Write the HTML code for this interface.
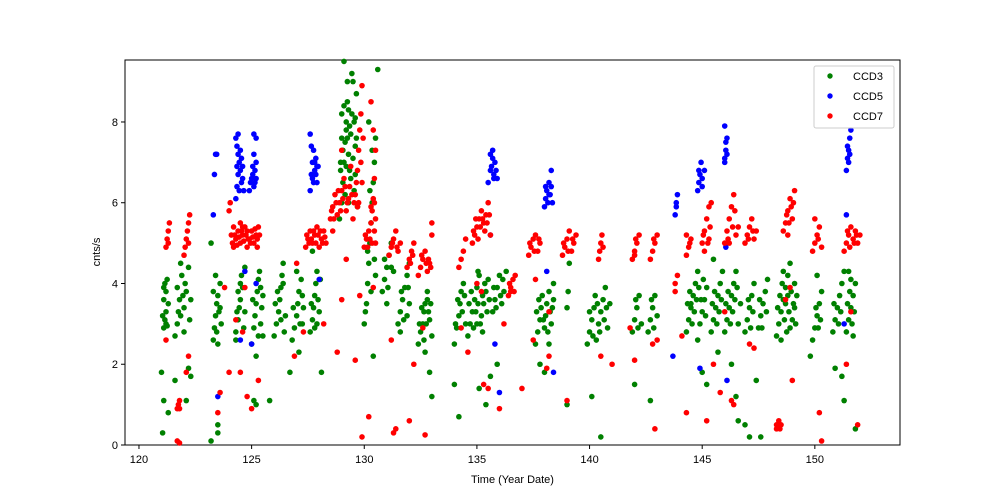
<!DOCTYPE html>
<html><head><meta charset="utf-8"><style>
body{margin:0;background:#fff;}
svg{display:block;font-family:"Liberation Sans","DejaVu Sans",sans-serif;}
</style></head><body>
<svg id="chart" width="1000" height="500"></svg>
<script>
const ccd3 = [
[121.0,1.8],[121.05,0.3],[121.1,1.1],[121.1,2.9],[121.15,3.1],[121.2,3.3],[121.1,3.6],[121.2,3.8],[121.15,4.0],[121.25,4.1],[121.2,3.0],[121.3,3.5],[121.3,0.8],
[121.6,2.7],[121.7,3.0],[121.75,3.3],[121.8,3.6],[121.7,3.9],[121.9,4.2],[122.0,3.4],[122.1,3.8],[122.2,4.4],[122.0,2.8],[122.25,3.1],[122.3,3.6],[121.85,4.5],[122.2,1.9],[121.6,1.6],[122.3,1.7],[122.1,1.1],
[123.2,0.1],[123.3,2.6],[123.35,2.9],[123.4,3.2],[123.45,3.5],[123.5,3.7],[123.6,4.0],[123.4,4.2],[123.65,3.0],[123.5,2.5],[123.6,3.4],[123.2,5.0],[123.5,0.5],[123.5,0.3],
[124.3,2.8],[124.4,3.1],[124.45,3.4],[124.5,3.6],[124.6,3.9],[124.55,4.2],[124.7,3.3],[124.4,3.8],[124.7,4.4],[124.3,2.6],
[125.0,2.5],[125.1,2.9],[125.15,3.2],[125.2,3.5],[125.25,3.8],[125.3,4.1],[125.4,3.0],[125.45,3.4],[125.5,3.7],[125.35,4.3],[125.2,2.2],[125.1,1.1],[125.2,1.0],[125.5,2.7],[125.8,1.1],
[126.0,2.7],[126.1,3.0],[126.2,3.3],[126.25,3.6],[126.3,3.9],[126.35,4.2],[126.4,4.5],[126.5,3.2],[126.45,2.8],[126.15,3.8],
[126.8,2.6],[126.9,2.9],[127.0,3.2],[127.05,3.5],[127.1,3.8],[127.2,4.1],[127.25,3.0],[127.3,3.4],[127.0,4.3],[126.7,1.8],[127.1,2.3],
[127.6,2.8],[127.7,3.1],[127.75,3.4],[127.8,3.7],[127.85,4.0],[127.9,4.3],[128.0,3.3],[127.95,3.6],[127.7,4.8],[127.8,2.9],[128.1,1.8],
[128.9,5.6],[129.0,6.0],[129.05,6.5],[129.1,7.0],[129.15,7.5],[129.2,8.0],[129.25,8.5],[129.3,7.2],[129.35,6.8],[129.4,7.7],[129.45,8.2],[129.5,9.0],[129.55,6.3],[129.6,7.4],[129.65,8.7],[129.0,8.2],[129.1,9.5],[129.3,6.0],[129.7,5.9],[129.6,8.1],[128.95,7.0],[129.2,7.8],[129.45,9.2],
[130.0,3.0],[130.1,3.5],[130.15,4.0],[130.2,4.5],[130.25,5.0],[130.3,5.5],[130.35,6.0],[130.4,6.5],[130.45,7.0],[130.5,7.6],[130.2,8.0],[130.3,3.8],[130.5,4.2],[130.6,9.3],[130.4,2.2],
[130.8,3.8],[130.9,4.1],[131.0,4.4],[131.1,4.7],[131.2,5.0],[131.3,4.3],[131.0,3.5],
[131.5,3.0],[131.6,3.3],[131.7,3.6],[131.8,3.9],[131.9,4.2],[132.0,4.5],[131.6,2.8],[131.9,3.2],[132.0,3.5],
[132.4,2.5],[132.5,2.8],[132.6,3.0],[132.65,3.3],[132.7,3.5],[132.8,3.8],[132.9,3.1],[133.0,2.7],[132.7,2.3],[132.9,1.8],[133.0,1.2],[132.8,3.6],
[134.0,2.5],[134.1,2.9],[134.2,3.2],[134.25,3.5],[134.3,3.8],[134.4,4.0],[134.5,3.0],[134.0,1.5],[134.2,0.7],
[134.6,2.7],[134.7,3.0],[134.8,3.3],[134.9,3.6],[135.0,3.9],[135.1,4.2],[135.2,3.2],[135.3,3.5],[135.4,3.8],[135.5,4.1],[135.0,3.0],[135.25,2.8],[135.1,1.4],[135.4,1.0],[135.6,1.7],
[135.7,3.3],[135.8,3.6],[135.9,3.9],[136.0,4.2],[136.1,3.5],[136.2,3.8],[136.3,4.3],[135.9,2.0],
[137.6,2.5],[137.7,2.8],[137.8,3.1],[137.85,3.4],[137.9,3.7],[138.0,2.9],[138.05,3.2],[138.1,3.5],[138.2,3.8],[138.3,3.0],[138.35,3.4],[138.4,4.0],[138.2,2.5],[137.8,2.0],[138.0,1.8],
[139.0,3.4],[139.05,3.8],[139.1,4.5],[139.0,1.0],
[139.9,2.5],[140.0,2.8],[140.1,3.1],[140.2,3.4],[140.25,3.7],[140.3,2.6],[140.4,3.0],[140.5,3.3],[140.6,3.6],[140.7,3.9],[140.8,2.9],[140.9,3.5],[140.1,1.2],[140.5,0.2],
[141.9,2.8],[142.0,3.1],[142.1,3.4],[142.2,3.7],[142.3,3.0],[142.0,1.5],
[142.6,2.8],[142.7,3.1],[142.8,3.4],[142.9,3.7],[143.0,3.2],[142.7,1.1],
[144.3,2.8],[144.4,3.1],[144.5,3.4],[144.6,3.7],[144.7,4.0],[144.8,4.3],[144.9,3.0],[145.0,3.3],[145.1,3.6],[145.2,3.9],[144.5,3.5],[144.8,2.6],[145.0,1.8],[145.2,1.5],
[145.4,2.8],[145.5,3.1],[145.6,3.4],[145.7,3.7],[145.8,4.0],[145.9,4.3],[145.5,4.6],[145.7,2.3],
[146.0,2.8],[146.1,3.1],[146.2,3.4],[146.3,3.7],[146.4,4.0],[146.5,4.3],[146.6,3.0],[146.7,3.5],[146.3,2.0],[146.5,1.2],[146.6,0.6],
[146.9,2.8],[147.0,3.1],[147.1,3.4],[147.2,3.7],[147.3,4.0],[146.9,0.5],[147.1,0.2],[147.4,1.6],
[147.5,2.9],[147.6,3.2],[147.7,3.5],[147.8,3.8],[147.9,4.1],[147.6,0.2],
[148.3,2.7],[148.4,3.0],[148.5,3.3],[148.6,3.6],[148.7,3.9],[148.8,4.2],[148.9,4.5],[149.0,3.1],[149.1,3.4],[149.2,3.7],[148.5,2.6],[148.7,3.5],[148.9,2.9],[149.1,4.0],
[149.9,2.6],[150.0,2.9],[150.1,3.2],[150.2,3.5],[150.3,3.8],[149.8,2.2],[150.1,4.2],
[150.8,2.8],[150.9,3.1],[151.0,3.4],[151.1,3.7],[151.2,4.0],[151.3,4.3],[150.9,1.9],[151.3,1.1],[151.2,1.7],
[151.4,2.8],[151.5,3.1],[151.6,3.4],[151.7,3.7],[151.8,4.0],[151.5,4.3],[151.8,0.4],[151.7,2.7],
/* extra density */
[121.05,3.2],[121.1,3.9],[121.25,2.95],[121.85,3.2],[121.95,3.7],[122.05,4.0],[123.3,3.8],[123.45,2.8],[123.55,3.3],[124.35,3.3],[124.5,4.0],[124.65,2.9],
[125.05,3.6],[125.3,2.7],[125.4,3.9],[126.05,3.5],[126.3,3.1],[126.4,4.0],[126.85,3.4],[127.15,3.0],[127.25,3.7],[127.65,3.5],[127.9,3.0],[128.05,4.1],
[128.95,6.8],[129.05,7.3],[129.1,8.4],[129.15,6.2],[129.2,6.9],[129.25,7.6],[129.3,8.3],[129.35,7.9],[129.4,6.6],[129.5,7.1],[129.55,8.0],[129.6,6.7],[129.65,7.6],[129.0,7.6],[129.25,9.0],
[130.05,3.3],[130.15,4.8],[130.25,6.3],[130.35,7.3],[130.45,4.6],[130.9,4.6],[131.05,3.9],[131.2,4.4],[131.65,3.8],[131.75,3.1],[131.95,3.9],
[132.45,3.0],[132.55,3.4],[132.65,2.6],[132.75,3.0],[132.85,3.3],[132.95,3.5],[134.05,3.0],[134.15,3.6],[134.35,3.3],[134.45,3.7],
[134.65,3.5],[134.75,3.8],[134.85,2.9],[134.95,3.3],[135.05,3.5],[135.15,3.0],[135.25,3.7],[135.35,4.0],[135.45,3.3],[135.55,3.6],[135.05,4.3],
[135.75,3.9],[135.85,3.4],[136.05,3.7],[136.15,4.1],[137.65,3.3],[137.75,3.6],[137.95,3.1],[138.15,2.8],[138.25,3.3],[138.4,3.6],
[140.0,3.3],[140.15,2.7],[140.35,3.5],[140.45,2.8],[140.65,3.1],[140.75,3.4],[142.05,3.6],[142.15,2.9],[142.75,3.6],[142.85,2.9],
[144.35,3.5],[144.45,3.8],[144.55,3.0],[144.65,3.3],[144.75,3.6],[144.85,3.9],[144.95,3.6],[145.05,4.1],[145.15,3.2],[145.45,3.5],[145.55,3.8],[145.65,3.0],[145.75,3.3],[145.85,3.6],
[146.05,3.5],[146.15,3.8],[146.25,3.0],[146.35,3.3],[146.45,3.6],[146.55,3.9],[147.05,3.6],[147.15,2.9],[147.25,3.3],[147.55,3.6],[147.65,2.9],[147.85,3.3],
[148.35,3.4],[148.45,3.7],[148.55,4.0],[148.65,3.1],[148.75,2.8],[148.85,3.3],[148.95,3.8],[149.05,3.5],[149.15,3.0],[148.6,4.3],[148.8,3.7],
[150.05,3.4],[150.15,2.9],[150.25,3.1],[150.85,3.5],[151.05,3.0],[151.15,3.3],[151.45,3.5],[151.55,3.8],[151.65,3.0],[151.75,3.3],[151.6,4.1]
];
const ccd5 = [
[123.35,6.7],[123.4,7.2],[123.45,7.2],[123.3,5.7],[123.5,1.2],
[124.3,6.1],[124.35,6.4],[124.4,6.7],[124.45,7.0],[124.5,7.3],[124.55,6.5],[124.6,6.9],[124.3,7.6],[124.4,7.7],[124.65,6.3],[124.5,2.6],[124.7,4.3],
[124.35,6.9],[124.45,6.3],[124.5,6.8],[124.6,6.6],[124.4,7.2],[124.55,7.1],[124.35,7.4],
[124.9,6.3],[125.0,6.6],[125.05,6.9],[125.1,7.2],[125.15,6.5],[125.2,7.0],[125.1,7.7],[125.2,7.6],[125.0,2.5],[125.2,4.0],
[124.95,6.5],[125.05,6.7],[125.15,6.8],[125.2,6.6],[125.1,6.4],
[127.6,6.3],[127.65,6.7],[127.7,7.0],[127.75,7.3],[127.8,6.8],[127.85,7.1],[127.9,6.5],[127.6,7.7],[127.95,6.9],[128.0,4.1],
[127.65,7.4],[127.7,6.6],[127.8,7.0],[127.85,6.7],[127.9,6.9],[127.75,6.5],
[135.5,6.5],[135.6,6.8],[135.7,7.1],[135.75,6.7],[135.8,7.0],[135.9,6.6],[135.7,7.3],[135.6,5.2],[135.8,2.5],[136.0,1.3],
[135.65,6.9],[135.75,6.6],[135.85,6.8],[135.6,7.2],
[138.0,5.9],[138.05,6.1],[138.1,6.3],[138.2,6.5],[138.25,6.2],[138.3,6.8],[138.35,6.0],[138.1,4.3],[138.4,1.8],
[138.15,6.0],[138.2,6.2],[138.3,6.4],[138.05,6.4],
[143.8,5.7],[143.85,5.9],[143.9,6.2],[143.85,6.0],[143.7,2.2],
[144.8,6.3],[144.85,6.5],[144.9,6.7],[144.95,7.0],[145.0,6.6],[145.1,6.8],[144.9,1.9],[144.85,6.8],[145.0,6.4],
[146.0,7.0],[146.05,7.3],[146.1,7.6],[146.0,7.9],[146.1,7.2],[146.05,4.9],[146.1,1.6],[146.05,7.5],[146.0,7.1],
[151.4,6.8],[151.45,7.1],[151.5,7.3],[151.55,7.6],[151.6,7.8],[151.5,7.0],[151.4,5.7],[151.3,3.0],[151.45,7.4],[151.55,7.2]
];
const ccd7 = [
[121.2,4.9],[121.25,5.1],[121.3,5.3],[121.35,5.5],[121.3,5.0],[121.2,2.6],
[121.7,0.9],[121.75,1.0],[121.8,1.1],[121.8,0.9],[121.7,0.1],[121.8,0.05],
[122.0,4.7],[122.05,4.9],[122.1,5.1],[122.15,5.3],[122.2,5.5],[122.25,5.7],[122.2,5.0],[122.2,2.2],[122.1,1.8],
[123.5,0.8],[123.6,1.3],[123.8,3.9],
[124.0,5.8],[124.05,6.0],[124.1,5.2],[124.2,4.9],[124.3,5.1],[124.4,5.3],[124.5,5.0],[124.6,5.2],[124.7,5.4],[124.8,4.9],[124.9,5.1],[125.0,5.3],[125.1,5.0],[125.2,5.2],[125.3,5.4],[124.5,5.5],[124.8,5.3],[125.25,4.9],[124.3,3.1],[124.0,1.8],[124.6,2.8],[124.5,1.8],[124.8,1.2],[125.0,0.9],[125.3,1.6],[124.7,3.9],
[124.15,5.0],[124.25,5.2],[124.35,4.95],[124.45,5.15],[124.55,5.3],[124.65,5.05],[124.75,5.2],[124.85,5.1],[124.95,5.0],[125.05,5.15],[125.15,5.35],[125.25,5.1],[125.35,5.2],[124.2,5.4],[124.6,5.4],
[127.4,4.9],[127.5,5.1],[127.6,5.3],[127.7,5.0],[127.8,5.2],[127.9,5.4],[128.0,4.9],[128.1,5.1],[128.2,5.3],[128.3,5.0],[127.0,4.5],[126.9,2.2],[127.3,2.8],[128.2,3.0],
[127.45,5.2],[127.55,5.0],[127.65,5.1],[127.75,5.3],[127.85,5.0],[127.95,5.2],[128.05,5.3],[128.15,5.0],[128.25,5.15],
[128.5,5.6],[128.6,5.9],[128.7,6.2],[128.8,5.7],[128.9,6.0],[129.0,6.3],[129.1,6.6],[129.2,5.8],[129.3,6.1],[129.4,6.9],[129.0,7.3],[128.6,5.3],[128.8,2.3],[129.0,3.6],[129.2,4.6],
[128.55,5.8],[128.65,5.6],[128.75,6.0],[128.85,6.3],[128.95,5.8],[129.05,6.1],[129.15,6.4],[129.25,6.0],[129.35,6.4],[129.45,6.2],
[129.5,5.6],[129.6,6.2],[129.7,6.8],[129.75,7.3],[129.8,7.8],[129.85,8.2],[129.9,8.9],[129.7,5.9],[129.9,6.5],[129.6,2.1],[129.8,3.7],[129.9,0.2],
[129.55,6.0],[129.65,6.5],[129.75,6.0],[129.85,7.0],[129.95,7.6],
[130.0,4.9],[130.1,5.1],[130.2,5.3],[130.3,5.5],[130.35,5.8],[130.4,6.1],[130.45,6.6],[130.5,7.3],[130.4,7.8],[130.5,5.0],[130.3,8.5],[130.2,0.7],[130.4,3.9],
[130.05,5.2],[130.15,4.9],[130.25,5.1],[130.35,5.0],[130.45,5.3],[130.5,5.6],[130.45,6.0],[130.3,5.9],
[131.1,4.7],[131.2,4.9],[131.3,5.1],[131.4,5.3],[131.5,4.8],[131.6,5.0],[131.2,2.6],[131.3,0.3],[131.4,0.4],[131.25,5.0],[131.45,4.9],
[131.9,4.4],[132.0,4.6],[132.1,4.8],[132.2,5.0],[132.0,0.6],[132.2,2.0],[132.05,4.5],[132.15,4.7],
[132.4,4.2],[132.5,4.4],[132.6,4.6],[132.7,4.8],[132.8,4.3],[132.9,4.5],[133.0,5.2],[133.0,5.5],[132.7,0.25],[132.6,2.9],[132.55,4.7],[132.75,4.5],[132.85,4.6],[132.95,4.4],
[134.2,4.4],[134.3,4.6],[134.4,4.8],[134.5,5.1],[134.3,2.9],[134.6,2.3],
[134.8,5.0],[134.9,5.2],[135.0,5.4],[135.1,5.6],[135.2,5.8],[135.3,5.5],[135.4,5.7],[135.5,6.0],[135.6,5.2],[135.0,4.0],[135.3,1.5],[135.5,1.4],[135.2,3.8],
[134.85,5.3],[134.95,5.6],[135.05,5.1],[135.15,5.4],[135.25,5.6],[135.35,5.3],[135.45,5.5],[135.55,5.7],
[136.4,3.7],[136.5,3.9],[136.6,4.1],[136.7,4.2],[136.5,3.8],[136.0,0.9],[136.2,3.0],[136.45,4.0],[136.65,3.8],
[137.3,4.7],[137.4,4.9],[137.5,5.1],[137.6,5.2],[137.7,4.8],[137.8,5.0],[137.0,1.4],[137.5,2.6],[137.6,4.1],[137.35,5.0],[137.55,4.8],[137.75,5.1],
[138.2,3.3],[138.8,4.7],[138.9,4.9],[139.0,5.1],[139.1,5.3],[139.2,4.8],[139.3,5.0],[139.4,5.2],[138.1,1.9],[138.2,2.2],[139.0,1.1],[138.85,5.0],[139.05,4.8],[139.25,5.1],
[140.4,4.6],[140.45,4.8],[140.5,5.0],[140.55,5.2],[140.6,4.9],[140.5,2.2],[141.0,2.0],
[141.9,4.6],[142.0,4.8],[142.1,5.0],[142.2,5.2],[142.0,4.7],[141.8,2.9],[142.0,2.1],[142.05,5.1],
[142.7,4.6],[142.8,4.8],[142.9,5.0],[143.0,5.2],[142.8,2.5],[142.9,0.4],[143.0,2.6],[142.85,5.1],
[143.8,4.0],[143.9,4.2],[143.8,3.8],[144.3,4.7],[144.4,4.9],[144.5,5.1],[144.3,5.2],[144.1,2.7],[144.3,0.8],[144.45,5.0],
[145.0,5.0],[145.1,5.3],[145.2,5.6],[145.3,5.9],[145.4,6.0],[145.1,4.8],[145.3,5.1],[145.5,2.0],[145.2,0.6],[145.05,5.2],[145.25,5.0],[145.35,5.4],
[146.0,5.0],[146.1,5.3],[146.2,5.6],[146.3,5.9],[146.4,6.2],[146.5,5.2],[146.6,5.4],[146.2,5.0],[146.3,1.1],[146.4,1.0],[146.0,3.3],[145.8,1.3],[146.15,5.1],[146.35,5.4],[146.45,5.8],
[146.9,5.0],[147.0,5.2],[147.1,5.4],[147.2,5.6],[147.3,5.1],[147.4,5.3],[147.1,2.5],[147.3,2.4],[147.05,5.1],[147.25,5.3],
[148.3,0.4],[148.35,0.5],[148.4,0.6],[148.45,0.4],[148.3,0.5],[148.5,0.5],
[148.6,5.3],[148.7,5.5],[148.8,5.8],[148.9,6.1],[149.0,5.6],[149.1,6.3],[148.8,5.2],[148.9,3.9],[149.0,1.6],[148.7,3.6],[148.75,5.7],[148.85,5.5],[148.95,5.9],[149.05,6.0],
[149.9,4.8],[150.0,5.0],[150.1,5.2],[150.2,5.4],[150.3,4.9],[150.0,5.6],[150.2,0.8],[150.3,0.1],[150.15,5.1],
[151.3,4.8],[151.4,5.0],[151.5,5.2],[151.6,5.4],[151.7,5.1],[151.8,5.3],[151.9,5.0],[152.0,5.2],[151.4,2.0],[151.9,0.5],[151.6,3.3],[151.45,5.3],[151.55,4.9],[151.75,5.0],[151.85,5.2]
];
const xTicks = [120,125,130,135,140,145,150];
const yTicks = [0,2,4,6,8];
const seriesNames = ["CCD3","CCD5","CCD7"];
const seriesColors = ["#008000","#0000ff","#ff0000"];

const NS="http://www.w3.org/2000/svg";
const svg=document.getElementById('chart');
const L=125,R=900,T=60,B=445;
const xMin=119.38,xMax=153.78,yMin=0,yMax=9.535;
const xs=v=>L+(v-xMin)/(xMax-xMin)*(R-L);
const ys=v=>B-(v-yMin)/(yMax-yMin)*(B-T);
function mk(tag,attrs){const e=document.createElementNS(NS,tag);for(const k in attrs)e.setAttribute(k,attrs[k]);svg.appendChild(e);return e;}

const frame=mk('rect',{x:L,y:T,width:R-L,height:B-T,fill:'none',stroke:'#000','stroke-width':1});



[ccd3,ccd5,ccd7].forEach((data,si)=>{
  data.forEach(p=>{
    const c=mk('circle',{cx:xs(p[0]),cy:ys(p[1]),r:2.8,fill:seriesColors[si]});
    
    
  });
});

xTicks.forEach(t=>{
  const l=mk('line',{x1:xs(t),x2:xs(t),y1:B,y2:B+4,stroke:'#000'});
  
  
  const tx=mk('text',{x:xs(t),y:B+18,'text-anchor':'middle','font-size':11});
  tx.textContent=t;
  
  
});
yTicks.forEach(t=>{
  const l=mk('line',{x1:L-4,x2:L,y1:ys(t),y2:ys(t),stroke:'#000'});
  
  
  const tx=mk('text',{x:L-7,y:ys(t)+4,'text-anchor':'end','font-size':11});
  tx.textContent=t;
  
  
});
const xt=mk('text',{x:(L+R)/2,y:483,'text-anchor':'middle','font-size':11});
xt.textContent='Time (Year Date)';


const yt=mk('text',{x:0,y:0,'text-anchor':'middle','font-size':11,transform:'translate(100,252) rotate(-90)'});
yt.textContent='cnts/s';



const lg=mk('rect',{x:814,y:66,width:80,height:62,rx:2,fill:'#fff','fill-opacity':0.8,stroke:'#ccc'});


seriesNames.forEach((n,i)=>{
  const y=76+i*20;
  const c=mk('circle',{cx:830,cy:y,r:2.7,fill:seriesColors[i]});
  
  
  const t=mk('text',{x:853,y:y+4,'font-size':11});
  t.textContent=n;
  
  
});
</script>
</body></html>
